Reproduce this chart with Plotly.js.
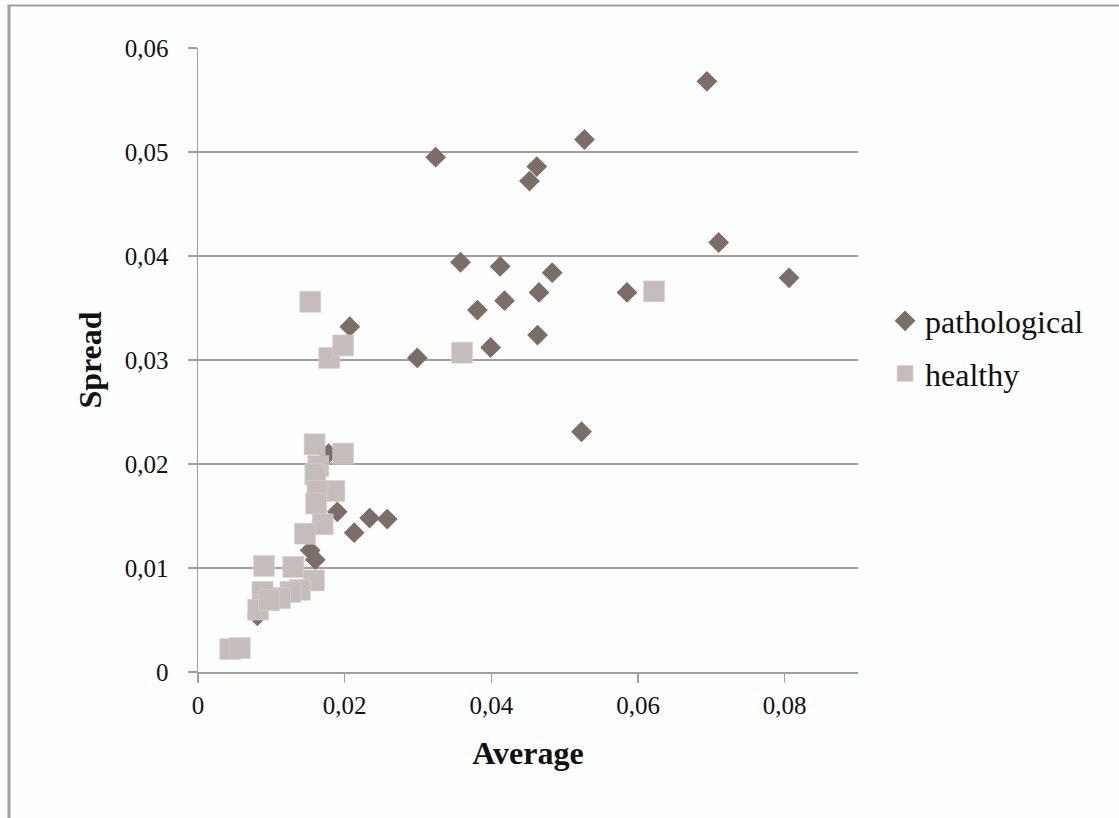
<!DOCTYPE html>
<html>
<head>
<meta charset="utf-8">
<script src="https://cdn.plot.ly/plotly-3.0.1.min.js"></script>
<style>html,body{margin:0;padding:0;background:#fdfefe;}#chart{width:1119px;height:818px;}</style>
</head>
<body>
<div id="chart"></div>
<script>
// pathological series (Average, Spread)
const pathAverage = [0.0324, 0.0527, 0.0462, 0.0452, 0.0358, 0.0412, 0.0483, 0.0465, 0.0418, 0.0381,
  0.0585, 0.0463, 0.0399, 0.0299, 0.0523, 0.0694, 0.0710, 0.0806, 0.0207, 0.0178,
  0.0190, 0.0234, 0.0258, 0.0213, 0.0153, 0.0160, 0.0081];
const pathSpread = [0.0495, 0.0512, 0.0486, 0.0472, 0.0394, 0.0390, 0.0384, 0.0365, 0.0357, 0.0348,
  0.0365, 0.0324, 0.0312, 0.0302, 0.0231, 0.0568, 0.0413, 0.0379, 0.0332, 0.0210,
  0.0154, 0.0148, 0.0147, 0.0134, 0.0117, 0.0108, 0.0054];
// healthy series (Average, Spread)
const healthyAverage = [0.0622, 0.0360, 0.0153, 0.0179, 0.0198, 0.0159, 0.0198, 0.0164, 0.0160, 0.0186,
  0.0163, 0.0161, 0.0170, 0.0146, 0.0090, 0.0130, 0.0158, 0.0139, 0.0126, 0.0112,
  0.0088, 0.0082, 0.0097, 0.0044, 0.0057];
const healthySpread = [0.0366, 0.0307, 0.0356, 0.0302, 0.0314, 0.0219, 0.0210, 0.0198, 0.0190, 0.0174,
  0.0174, 0.0162, 0.0142, 0.0133, 0.0102, 0.0101, 0.0088, 0.0079, 0.0077, 0.0071,
  0.0077, 0.0060, 0.0069, 0.0022, 0.0023];
const seriesNames = ["pathological", "healthy"];
const xTitle = "Average";
const yTitle = "Spread";

const grid = "#a89d97";
const serif = "Liberation Serif, Times New Roman, serif";

const traces = [
  {x: pathAverage, y: pathSpread, name: seriesNames[0], type: "scatter", mode: "markers",
   legendgroup: "a",
   marker: {symbol: "diamond", size: 16, color: "#7b6e67", line: {width: 0}}},
  {x: healthyAverage, y: healthySpread, name: seriesNames[1], type: "scatter", mode: "markers",
   legendgroup: "b",
   marker: {symbol: "square", size: 21, color: "#c5bdbb", line: {width: 0.6, color: "#d9d3d1"}}}
];

const layout = {
  width: 1119, height: 818,
  paper_bgcolor: "#fdfefe", plot_bgcolor: "#fdfefe",
  margin: {l: 198, r: 261, t: 48, b: 146},
  separators: ", ",
  font: {family: serif, color: "#111"},
  showlegend: true,
  legend: {x: 1.041, y: 0.52, xanchor: "left", yanchor: "middle",
    font: {family: serif, size: 32, color: "#111"}, tracegroupgap: 8,
    bgcolor: "rgba(0,0,0,0)"},
  xaxis: {range: [0, 0.09], dtick: 0.02, tick0: 0, showgrid: false, zeroline: false,
    showline: true, linecolor: grid, linewidth: 1.5,
    ticks: "outside", ticklen: 9, tickcolor: grid, tickwidth: 1.5,
    tickfont: {family: serif, size: 25, color: "#111"}, ticklabelstandoff: 1,
    title: {text: xTitle, font: {family: serif, size: 32, color: "#111", weight: "bold"}, standoff: 24}},
  yaxis: {range: [0, 0.06], dtick: 0.01, tick0: 0, showgrid: true, gridcolor: grid, gridwidth: 1.2,
    zeroline: false, showline: true, linecolor: grid, linewidth: 1.5,
    ticks: "outside", ticklen: 9, tickcolor: grid, tickwidth: 1.5,
    tickfont: {family: serif, size: 25, color: "#111"}, ticklabelstandoff: 14,
    title: {text: yTitle, font: {family: serif, size: 32, color: "#111", weight: "bold"}, standoff: 13}},
  shapes: [
    {type: "line", xref: "paper", yref: "paper", x0: -0.2864, x1: -0.2864, y0: 1.069, y1: -0.24,
     line: {color: "#a89d97", width: 3}},
    {type: "line", xref: "paper", yref: "paper", x0: -0.2886, x1: 1.40, y0: 1.068, y1: 1.068,
     line: {color: "#a89d97", width: 2}}
  ]
};

Plotly.newPlot("chart", traces, layout, {displayModeBar: false, staticPlot: true});
</script>
</body>
</html>
